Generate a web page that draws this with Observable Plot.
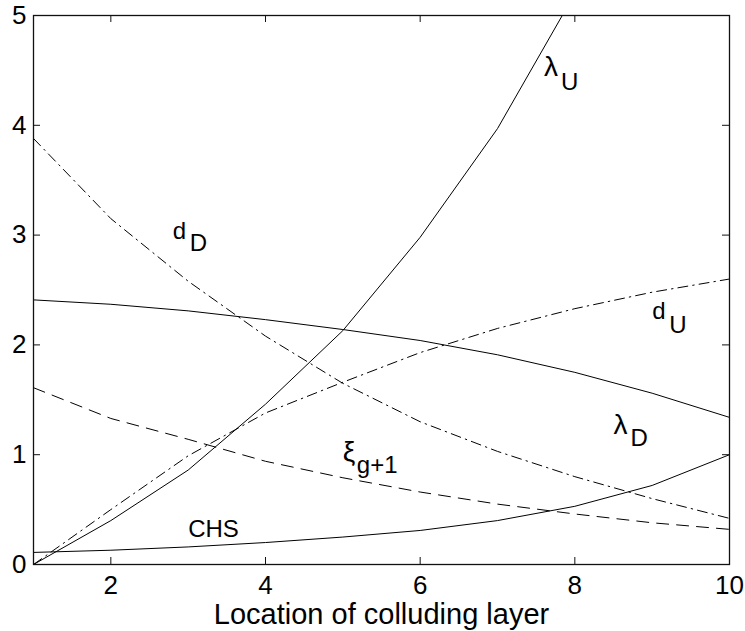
<!DOCTYPE html>
<html>
<head>
<meta charset="utf-8">
<script src="https://cdn.jsdelivr.net/npm/d3@7"></script>
<script src="https://cdn.jsdelivr.net/npm/@observablehq/plot@0.6"></script>
<style>
  html, body { margin: 0; padding: 0; background: #fff; }
  #chart svg { display: block; }
</style>
</head>
<body>
<div id="chart"></div>
<script>
// ---- data ----
const layers = [1, 2, 3, 4, 5, 6, 7, 8, 9, 10];
const lambdaU = [0, 0.40, 0.86, 1.46, 2.13, 2.98, 3.97, 5.2];
const lambdaD = [2.41, 2.37, 2.31, 2.23, 2.14, 2.04, 1.91, 1.75, 1.56, 1.34];
const dD = [3.88, 3.15, 2.58, 2.08, 1.65, 1.30, 1.03, 0.80, 0.60, 0.42];
const dU = [0, 0.50, 0.99, 1.38, 1.66, 1.93, 2.15, 2.33, 2.48, 2.60];
const xi = [1.61, 1.33, 1.14, 0.94, 0.79, 0.66, 0.55, 0.46, 0.38, 0.32];
const chs = [0.11, 0.13, 0.16, 0.20, 0.25, 0.31, 0.40, 0.53, 0.72, 1.00];
const xTicks = [2, 4, 6, 8, 10];
const yTicks = [0, 1, 2, 3, 4, 5];
const xLabel = "Location of colluding layer";

// curve annotations: main text, subscript, anchor in data units
const annotations = [
  {main: "λ", sub: "U", x: 7.6, y: 4.45, greek: true},
  {main: "d", sub: "D", x: 2.8, y: 2.96, greek: false},
  {main: "d", sub: "U", x: 9.0, y: 2.24, greek: false},
  {main: "λ", sub: "D", x: 8.5, y: 1.19, greek: true},
  {main: "ξ", sub: "g+1", x: 5.0, y: 0.945, greek: true},
  {main: "CHS", sub: "", x: 3.0, y: 0.255, greek: false}
];
const subOffsets = {U: [17, 14], D: [17, 12], "g+1": [14, 12], "": [0, 0]};

const series = (vals) => vals.map((v, i) => ({x: layers[i], y: v}));

// ---- layout ----
const W = 745, H = 631;
const mL = 33, mR = 16, mT = 15, mB = 67;
const plotW = W - mL - mR, plotH = H - mT - mB;
const tickLen = 7;
const font = "'Liberation Sans', Arial, Helvetica, sans-serif";

const dashDot = "10,5,1.5,5";
const dashed = "12,8";

const chart = Plot.plot({
  width: W,
  height: H,
  marginLeft: mL,
  marginRight: mR,
  marginTop: mT,
  marginBottom: mB,
  style: {fontFamily: font, background: "#fff", color: "#000"},
  x: {domain: [1, 10], label: null},
  y: {domain: [0, 5], label: null},
  marks: [
    // curves
    Plot.line(series(lambdaU), {x: "x", y: "y", stroke: "#000", strokeWidth: 1, clip: true}),
    Plot.line(series(lambdaD), {x: "x", y: "y", stroke: "#000", strokeWidth: 1}),
    Plot.line(series(chs), {x: "x", y: "y", stroke: "#000", strokeWidth: 1}),
    Plot.line(series(dD), {x: "x", y: "y", stroke: "#000", strokeWidth: 1, strokeDasharray: dashDot}),
    Plot.line(series(dU), {x: "x", y: "y", stroke: "#000", strokeWidth: 1, strokeDasharray: dashDot}),
    Plot.line(series(xi), {x: "x", y: "y", stroke: "#000", strokeWidth: 1, strokeDasharray: dashed}),
    // box + inward ticks
    Plot.frame({stroke: "#111", strokeWidth: 1.3}),
    Plot.tickX(xTicks, {x: d => d, stroke: "#111", insetBottom: plotH - tickLen}),
    Plot.tickX(xTicks, {x: d => d, stroke: "#111", insetTop: plotH - tickLen}),
    Plot.tickY(yTicks, {y: d => d, stroke: "#111", insetRight: plotW - tickLen}),
    Plot.tickY(yTicks, {y: d => d, stroke: "#111", insetLeft: plotW - tickLen}),
    // tick labels
    Plot.axisX({ticks: xTicks, tickSize: 0, tickPadding: 11, fontSize: 26, label: null, tickFormat: d => String(d)}),
    Plot.axisY({ticks: yTicks, tickSize: 0, tickPadding: 7, fontSize: 26, label: null, tickFormat: d => String(d)}),
    // axis title
    Plot.text([xLabel], {
      frameAnchor: "bottom", text: d => d, dy: 59, lineAnchor: "bottom",
      fontSize: 29, fill: "#000", style: {letterSpacing: "1.1px"}
    }),
    // curve labels
    Plot.text(annotations.filter(a => a.greek), {
      x: "x", y: "y", text: "main", textAnchor: "start", lineAnchor: "bottom",
      fontSize: 28, fill: "#000"
    }),
    Plot.text(annotations.filter(a => !a.greek), {
      x: "x", y: "y", text: "main", textAnchor: "start", lineAnchor: "bottom",
      fontSize: 24, fill: "#000"
    }),
    ...annotations.filter(a => a.sub).map(a => Plot.text([a], {
      x: "x", y: "y", text: "sub", textAnchor: "start", lineAnchor: "bottom",
      dx: subOffsets[a.sub][0], dy: subOffsets[a.sub][1],
      fontSize: 24, fill: "#000"
    }))
  ]
});

document.getElementById("chart").appendChild(chart);
</script>
</body>
</html>
